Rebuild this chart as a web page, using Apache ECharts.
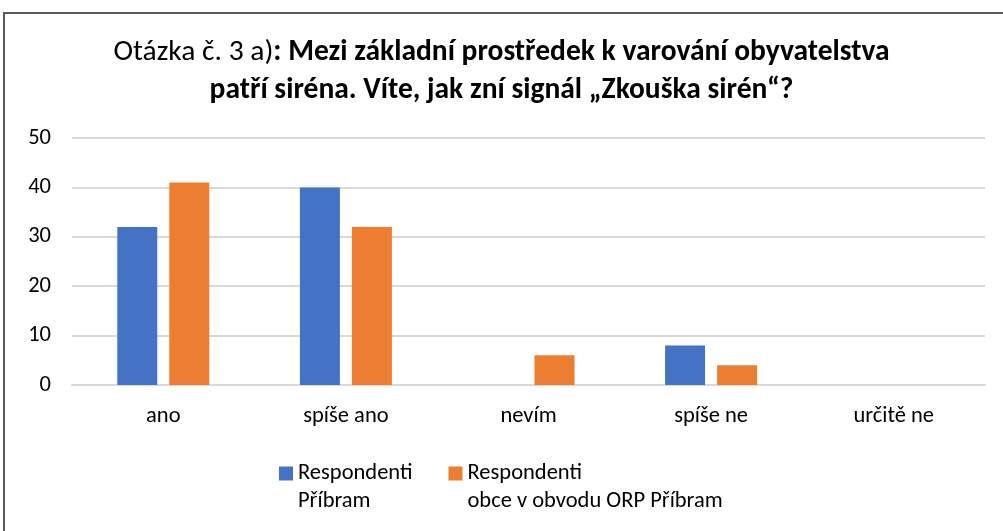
<!DOCTYPE html>
<html>
<head>
<meta charset="utf-8">
<script src="https://cdn.jsdelivr.net/npm/echarts@6/dist/echarts.min.js"></script>
<style>
	html, body { margin: 0; padding: 0; background: #fff; }
	#chart { width: 1003px; height: 531px; }
</style>
</head>
<body>
<div id="chart"></div>
<script>
const categories = ['ano', 'spíše ano', 'nevím', 'spíše ne', 'určitě ne'];
const seriesNames = ['Respondenti Příbram', 'Respondenti obce v obvodu ORP Příbram'];
const legendLabels = ['Respondenti\nPříbram', 'Respondenti\nobce v obvodu ORP Příbram'];
const pribram = [32, 40, 0, 8, 0];
const obceOrp = [41, 32, 6, 4, 0];
const yTicks = [0, 10, 20, 30, 40, 50];

const font = 'Carlito, Lato, "Noto Sans", sans-serif';
const chart = echarts.init(document.getElementById('chart'));

const option = {
	backgroundColor: '#fff',
	textStyle: { fontFamily: font },
	graphic: [{
		// rámeček grafu
		type: 'rect',
		shape: { x: 4, y: 13, width: 1100, height: 600 },
		style: { fill: 'none', stroke: '#595959', lineWidth: 2 },
		silent: true
	}],
	title: {
		left: 'center',
		top: 29,
		text: '{n|Otázka č. 3 a)}{b|: Mezi základní prostředek k varování obyvatelstva}\n{b|patří siréna. Víte, jak zní signál „Zkouška sirén“?}',
		textStyle: {
			fontSize: 29.5,
			fontWeight: 'normal',
			color: '#000',
			lineHeight: 38,
			rich: {
				n: { fontSize: 29.5, fontWeight: 'normal', color: '#000', lineHeight: 38 },
				b: { fontSize: 29.5, fontWeight: 'bold', color: '#000', lineHeight: 38 }
			}
		}
	},
	legend: {
		left: 274,
		top: 454,
		itemWidth: 14,
		itemHeight: 41,
		itemGap: 36,
		// čtvereček zarovnaný k prvnímu řádku popisku
		icon: 'path://M0,0L14,0L14,14L0,14Z M0,41L0.01,41L0,40.99Z',
		data: seriesNames,
		formatter: name => legendLabels[seriesNames.indexOf(name)],
		textStyle: { fontSize: 22.5, color: '#000', lineHeight: 28 }
	},
	grid: {
		left: 72,
		right: 18,
		top: 138,
		bottom: 146,
		containLabel: false
	},
	xAxis: {
		type: 'category',
		data: categories,
		axisLine: { lineStyle: { color: '#D9D9D9', width: 2 } },
		axisTick: { show: false },
		axisLabel: { fontSize: 22.5, color: '#000', margin: 20 }
	},
	yAxis: {
		type: 'value',
		min: yTicks[0],
		max: yTicks[yTicks.length - 1],
		interval: 10,
		axisLine: { show: false },
		axisTick: { show: false },
		axisLabel: { fontSize: 22.5, color: '#000', margin: 21 },
		splitLine: { lineStyle: { color: '#D9D9D9', width: 2 } }
	},
	series: [
		{
			name: seriesNames[0],
			type: 'bar',
			data: pribram,
			barWidth: 40,
			barGap: '30%',
			itemStyle: { color: '#4472C4' }
		},
		{
			name: seriesNames[1],
			type: 'bar',
			data: obceOrp,
			barWidth: 40,
			barGap: '30%',
			itemStyle: { color: '#ED7D31' }
		}
	]
};

chart.setOption(option);
</script>
</body>
</html>
